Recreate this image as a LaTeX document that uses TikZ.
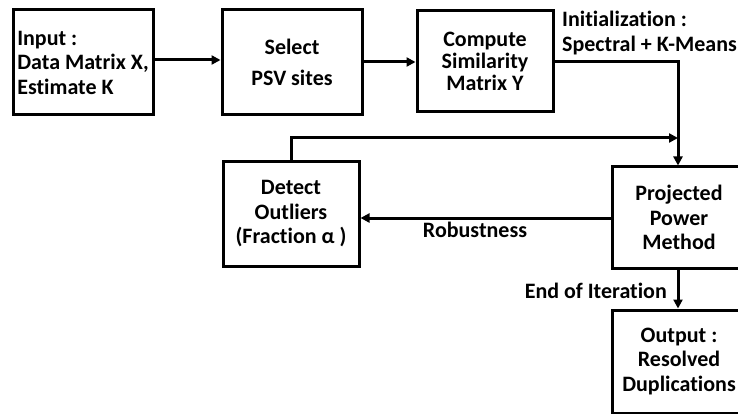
\documentclass[tikz,border=0pt]{standalone}
\usepackage{fontspec}
\setmainfont{Carlito}[Ligatures={NoCommon}]
\usetikzlibrary{arrows.meta}
\begin{document}
\begin{tikzpicture}[x=1pt,y=-1pt,
  box/.style={draw,line width=3pt,inner sep=0pt,font=\bfseries\fontsize{22}{24.5}\selectfont,align=center},
  conn/.style={line width=3pt},
  arr/.style={conn,-{Triangle[length=9pt,width=9pt]}},
  lbl/.style={font=\bfseries\fontsize{22}{24.5}\selectfont}]
\useasboundingbox (0,0) rectangle (738,414);
\node[box,minimum width=140pt,minimum height=105pt,align=left] (in) at (83,62.5) {Input :\\Data Matrix X,\\Estimate K};
\node[box,minimum width=140pt,minimum height=105pt,font=\bfseries\fontsize{22}{31}\selectfont] (sel) at (292,62.5) {Select\\PSV sites};
\node[box,minimum width=136pt,minimum height=101pt,font=\bfseries\fontsize{22}{22}\selectfont] (sim) at (485,61.5) {Compute\\Similarity\\Matrix Y};
\node[box,minimum width=136pt,minimum height=104pt] (det) at (291,214) {Detect\\Outliers\\(Fraction α )};
\node[box,minimum width=134pt,minimum height=101pt] (ppm) at (679,217.5) {Projected\\Power\\Method};
\node[box,minimum width=134pt,minimum height=103pt] (out) at (679,361.5) {Output :\\Resolved\\Duplications};
\coordinate (c1) at (678,62);
\coordinate (c2) at (291,138);
\coordinate (c3) at (678,138);
\draw[arr] (in.east|-0,60) -- (sel.west|-0,60);
\draw[arr] (sel.east|-0,62) -- (sim.west|-0,62);
\draw[arr] (sim.east|-c1) -- (c1) -- (ppm.north-|c1);
\draw[arr] (det.north-|c2) -- (c2) -- (c3);
\draw[arr] (ppm.west|-0,218) -- (det.east|-0,218);
\draw[arr] (ppm.south-|c1) -- (out.north-|c1);
\node[lbl,align=left,anchor=north west,inner sep=0pt] (init) at (562,11) {Initialization :\\Spectral + K-Means};
\node[lbl] (rob) at (475,230) {Robustness};
\node[lbl,anchor=east,inner sep=0pt] (end) at (667,291) {End of Iteration};
\end{tikzpicture}
\end{document}
